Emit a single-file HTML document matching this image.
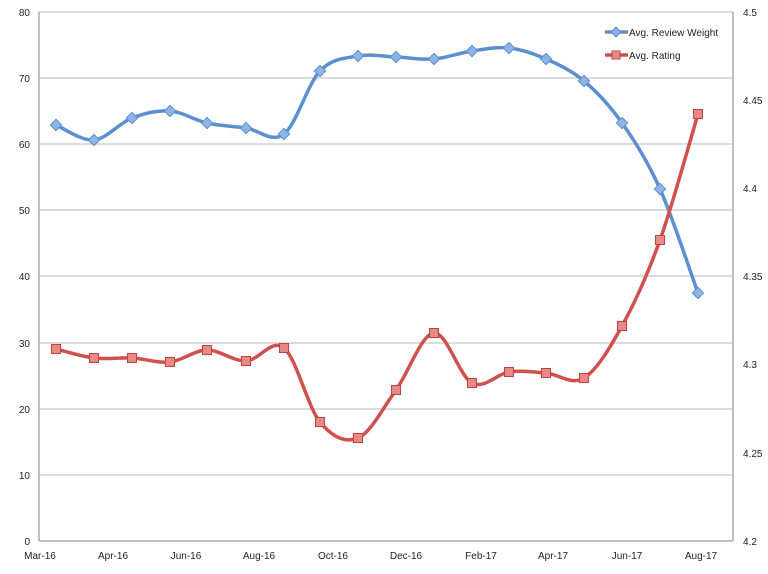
<!DOCTYPE html>
<html><head><meta charset="utf-8"><style>
body{margin:0;background:#fff}
svg{display:block}
text{font-family:"Liberation Sans",sans-serif;font-size:10px;fill:#222}
</style></head><body>
<svg id="s" width="768" height="574" viewBox="0 0 768 574">
<g stroke="#c8c8c8" stroke-width="1.3">
<line x1="39" y1="12" x2="733" y2="12"/>
<line x1="39" y1="78" x2="733" y2="78"/>
<line x1="39" y1="144" x2="733" y2="144"/>
<line x1="39" y1="210" x2="733" y2="210"/>
<line x1="39" y1="276" x2="733" y2="276"/>
<line x1="39" y1="343" x2="733" y2="343"/>
<line x1="39" y1="409" x2="733" y2="409"/>
<line x1="39" y1="475" x2="733" y2="475"/>
</g>
<g stroke="#aaa" stroke-width="1.5">
<line x1="39" y1="12" x2="39" y2="541"/>
<line x1="733" y1="12" x2="733" y2="541"/>
<line x1="39" y1="541" x2="733" y2="541"/>
</g>
<g text-anchor="end">
<text x="30" y="16">80</text><text x="30" y="82">70</text><text x="30" y="148">60</text>
<text x="30" y="214">50</text><text x="30" y="280">40</text><text x="30" y="347">30</text>
<text x="30" y="413">20</text><text x="30" y="479">10</text><text x="30" y="545">0</text>
</g>
<g>
<text x="743" y="16">4.5</text><text x="743" y="104">4.45</text><text x="743" y="192">4.4</text>
<text x="743" y="280">4.35</text><text x="743" y="368">4.3</text><text x="743" y="457">4.25</text>
<text x="743" y="545">4.2</text>
</g>
<g text-anchor="middle">
<text x="40" y="559">Mar-16</text><text x="113" y="559">Apr-16</text><text x="186" y="559">Jun-16</text>
<text x="259" y="559">Aug-16</text><text x="333" y="559">Oct-16</text><text x="406" y="559">Dec-16</text>
<text x="481" y="559">Feb-17</text><text x="553" y="559">Apr-17</text><text x="627" y="559">Jun-17</text>
<text x="701" y="559">Aug-17</text>
</g>
<line x1="605" y1="32" x2="628" y2="32" stroke="#5b8fcf" stroke-width="3.5"/>
<line x1="605" y1="55" x2="628" y2="55" stroke="#d0504d" stroke-width="3.5"/>
<text x="629" y="36">Avg. Review Weight</text>
<text x="629" y="59">Avg. Rating</text>
<g id="g"></g>
</svg>
<script>
var xs=[56,94,132,170,207,246,284,320,358,396,434,472,509,546,584,622,660,698];
var b=[125,140,118,111,123,128,134,71,56,57,59,51,48,59,81,123,189,293];
var r=[349,358,358,362,350,361,348,422,438,390,333,383,372,373,378,326,240,114];
function path(ys){var p=xs.map(function(x,i){return[x,ys[i]]});var d="M"+p[0];
for(var i=0;i<p.length-1;i++){var a=p[Math.max(i-1,0)],b0=p[i],c=p[i+1],e=p[Math.min(i+2,p.length-1)];
var t=6;d+=" C"+(b0[0]+(c[0]-a[0])/t)+","+(b0[1]+(c[1]-a[1])/t)+" "+(c[0]-(e[0]-b0[0])/t)+","+(c[1]-(e[1]-b0[1])/t)+" "+c;}return d;}
var g=document.getElementById("g"),ns="http://www.w3.org/2000/svg",h="";
h+='<path d="'+path(b)+'" fill="none" stroke="#5b8fcf" stroke-width="3.5"/>';
h+='<path d="'+path(r)+'" fill="none" stroke="#d0504d" stroke-width="3.5"/>';
xs.forEach(function(x,i){h+='<rect x="'+(x-4)+'" y="'+(b[i]-4)+'" width="8" height="8" transform="rotate(45 '+x+' '+b[i]+')" fill="#8fb3e3" stroke="#5b8fcf"/>';
h+='<rect x="'+(x-4.5)+'" y="'+(r[i]-4.5)+'" width="9" height="9" fill="#e58a88" stroke="#c0413e"/>';});
h+='<rect x="612.5" y="28.5" width="7" height="7" transform="rotate(45 616 32)" fill="#8fb3e3" stroke="#5b8fcf"/>';
h+='<rect x="612" y="51" width="8" height="8" fill="#e58a88" stroke="#c0413e"/>';
g.innerHTML=h;
</script>
</body></html>
